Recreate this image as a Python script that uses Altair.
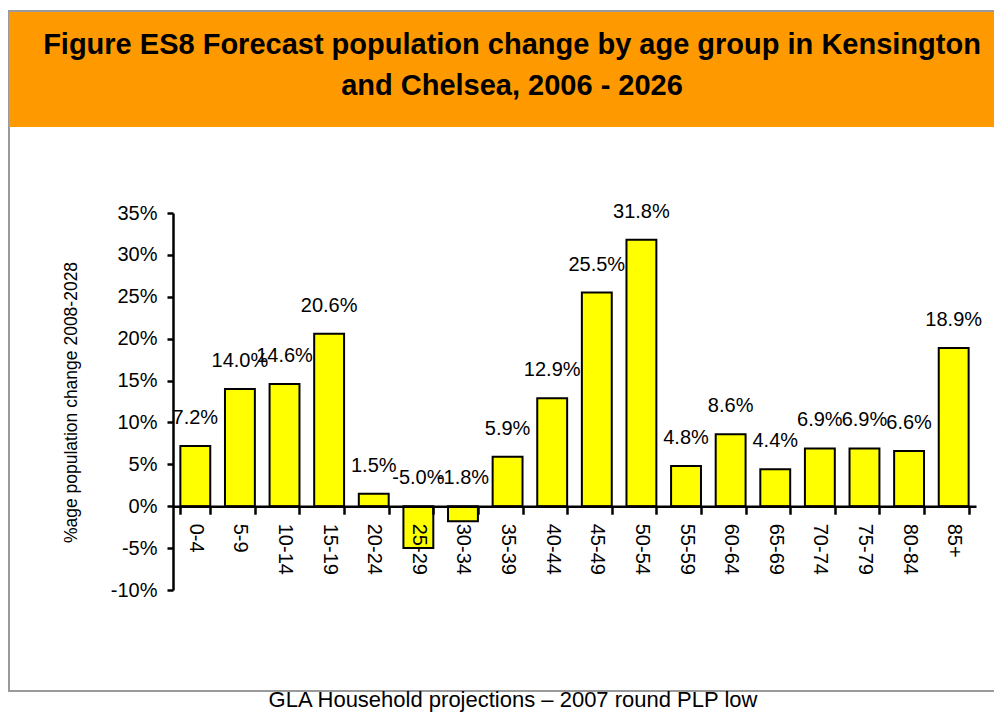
import altair as alt
import pandas as pd

AGE_GROUPS = ["0-4", "5-9", "10-14", "15-19", "20-24", "25-29", "30-34", "35-39", "40-44",
              "45-49", "50-54", "55-59", "60-64", "65-69", "70-74", "75-79", "80-84", "85+"]
CHANGE_PCT = [7.2, 14.0, 14.6, 20.6, 1.5, -5.0, -1.8, 5.9, 12.9,
              25.5, 31.8, 4.8, 8.6, 4.4, 6.9, 6.9, 6.6, 18.9]
Y_TICKS = [-10, -5, 0, 5, 10, 15, 20, 25, 30, 35]
TITLE_LINES = ["Figure ES8 Forecast population change by age group in Kensington",
               "and Chelsea, 2006 - 2026"]
Y_TITLE = "%age population change 2008-2028"
SOURCE = "GLA Household projections \u2013 2007 round PLP low"

W, H = 803, 377
Y_MIN, Y_MAX = -10, 35
FONT = "Liberation Sans"

df = pd.DataFrame({"age": AGE_GROUPS, "pct": CHANGE_PCT})
df["label"] = [f"{v:.1f}%" for v in CHANGE_PCT]
df["label_y"] = [max(v, 0) for v in CHANGE_PCT]

x_scale = alt.Scale(paddingInner=0.33, paddingOuter=0.165)
y_scale = alt.Scale(domain=[Y_MIN, Y_MAX], nice=False)

x_axis = alt.Axis(
    title=None, labelAngle=90, labelAlign="left", labelBaseline="middle",
    labelFontSize=20, labelColor="black", labelPadding=9, labelFont=FONT,
    tickSize=8, tickWidth=2.5, tickColor="black", tickBand="extent",
    domainColor="black", domainWidth=2.5, grid=False,
    offset=-H * (0 - Y_MIN) / (Y_MAX - Y_MIN), zindex=1,
)
y_axis = alt.Axis(
    values=Y_TICKS, labelExpr="datum.value + '%'", labelFontSize=20, labelColor="black",
    labelPadding=10, labelFont=FONT,
    tickSize=6, tickWidth=2.5, tickColor="black", domainColor="black", domainWidth=2.5,
    grid=False, title=Y_TITLE, titleFontSize=17.5, titleFontWeight="normal",
    titleColor="black", titleFont=FONT, titleAngle=-90, titleX=-102, titleY=189,
    titleBaseline="middle", titleAlign="center", zindex=1,
)

base = alt.Chart(df)

bars = base.mark_bar(fill="#FFFF00", stroke="black", strokeWidth=2).encode(
    x=alt.X("age:N", sort=AGE_GROUPS, scale=x_scale, axis=x_axis),
    y=alt.Y("pct:Q", scale=y_scale, axis=y_axis),
    y2=alt.datum(0),
)

labels = base.mark_text(fontSize=20, font=FONT, color="black", dy=-28,
                        align="center", baseline="middle").encode(
    x=alt.X("age:N", sort=AGE_GROUPS, scale=x_scale, axis=x_axis),
    y=alt.Y("label_y:Q", scale=y_scale, axis=y_axis),
    text="label:N",
)

one = pd.DataFrame({"k": [0]})

frame = alt.Chart(one).mark_rect(fill="white", stroke="#9a9a9a", strokeWidth=2).encode(
    x=alt.value(-164), x2=alt.value(840), y=alt.value(-202), y2=alt.value(478)
)
header = alt.Chart(one).mark_rect(fill="#FF9900").encode(
    x=alt.value(-164), x2=alt.value(840), y=alt.value(-201), y2=alt.value(-86)
)

t1 = alt.Chart(pd.DataFrame({"t": [TITLE_LINES[0]]})).mark_text(
    fontSize=29, fontWeight="bold", font=FONT, color="black", align="center",
    baseline="alphabetic").encode(x=alt.value(339), y=alt.value(-159), text="t:N")
t2 = alt.Chart(pd.DataFrame({"t": [TITLE_LINES[1]]})).mark_text(
    fontSize=29, fontWeight="bold", font=FONT, color="black", align="center",
    baseline="alphabetic").encode(x=alt.value(339), y=alt.value(-118), text="t:N")
footer = alt.Chart(pd.DataFrame({"t": [SOURCE]})).mark_text(
    fontSize=22, font=FONT, color="black",
    align="center", baseline="alphabetic").encode(
    x=alt.value(340), y=alt.value(494), text="t:N")

chart = alt.layer(frame, header, bars, labels, t1, t2, footer).properties(
    width=W, height=H,
    padding={"left": 165, "top": 205, "right": 18, "bottom": 122},
    autosize=alt.AutoSizeParams(type="none"),
).configure_view(stroke=None).configure(font=FONT)

chart.save("out.html", embed_options={"renderer": "svg", "actions": False})
